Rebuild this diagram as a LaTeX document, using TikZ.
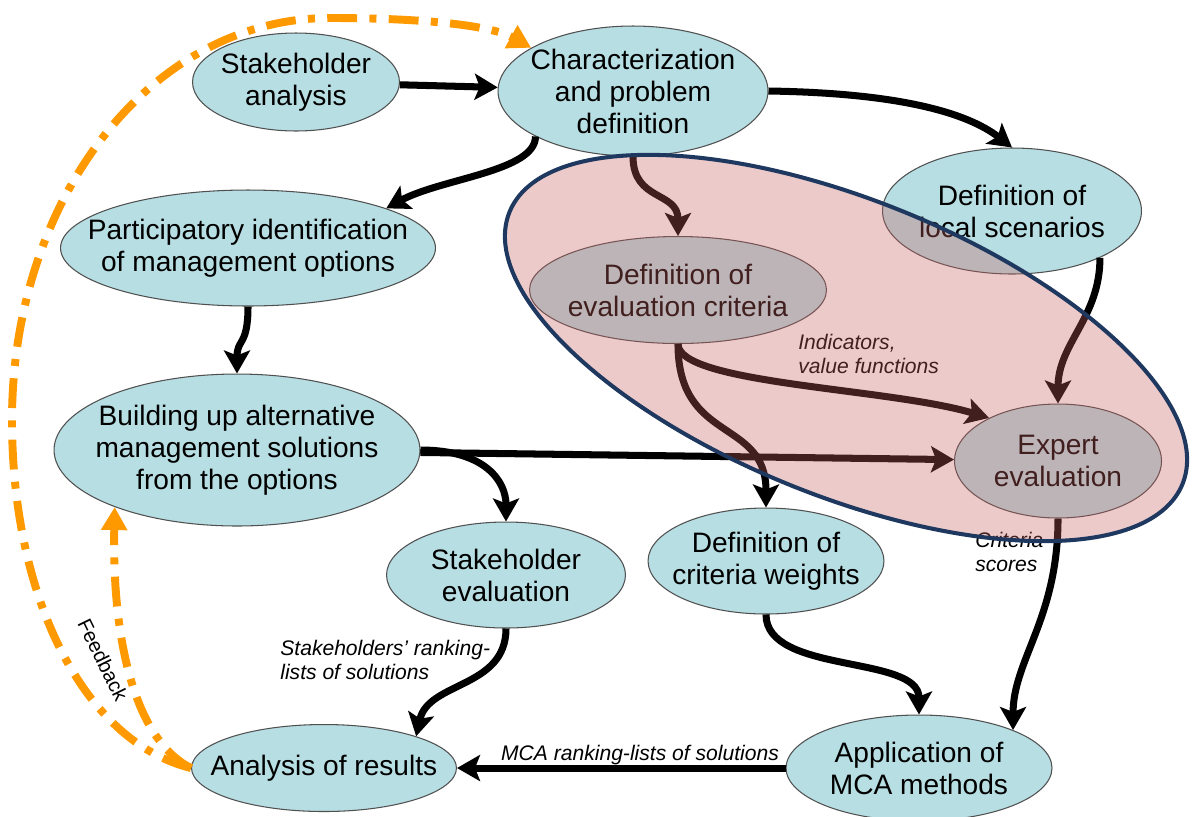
\documentclass[tikz,border=0pt]{standalone}
\usepackage{fontspec}
\setmainfont{Liberation Sans}
\usetikzlibrary{shapes.geometric,arrows.meta}

\definecolor{stagefill}{RGB}{183,222,227}
\definecolor{stageline}{RGB}{80,80,80}
\definecolor{feedorange}{RGB}{255,153,0}
\definecolor{expertpink}{RGB}{200,95,95}
\definecolor{expertline}{RGB}{31,56,96}

\newcommand{\stagefont}{\fontsize{16}{18.2}\selectfont}
\newcommand{\notefont}{\fontsize{12}{13.6}\selectfont\itshape}

\begin{document}
\begin{tikzpicture}[x=0.02cm,y=-0.02cm]
        \tikzstyle{stage} = [ellipse, draw=stageline, line width=0.6pt, fill=stagefill, inner xsep=-3cm, inner ysep=-2cm, align=center, font=\stagefont]
        \tikzstyle{note} = [align=left, font=\notefont, anchor=west, inner sep=0pt]
        \tikzstyle{flow} = [line width=4pt, -{Stealth[length=0.46cm,width=0.52cm,inset=0.1cm]}]
        \tikzstyle{feedback} = [feedorange, line width=4.5pt, dash pattern=on 17pt off 7pt on 4pt off 7pt, -{Triangle[length=0.46cm,width=0.5cm]}]
        \useasboundingbox (0,0) rectangle (1192,816);
        \node[stage, minimum width=4.14cm, minimum height=1.96cm] (sa) at (296,82) {Stakeholder\\analysis};
        \node[stage, minimum width=5.4cm, minimum height=2.6cm] (char) at (633,91) {Characterization\\and problem\\definition};
        \node[stage, minimum width=7.5cm, minimum height=2.32cm] (part) at (248,248) {Participatory identification\\of management options};
        \node[stage, minimum width=7.32cm, minimum height=3.04cm] (bld) at (237,450) {Building up alternative\\management solutions\\from the options};
        \node[stage, minimum width=5.18cm, minimum height=2.52cm] (loc) at (1012,211) {Definition of\\local scenarios};
        \node[stage, minimum width=5.94cm, minimum height=2.14cm] (crit) at (678,290) {Definition of\\evaluation criteria};
        \node[stage, minimum width=4.14cm, minimum height=2.28cm] (exp) at (1058,461) {Expert\\evaluation};
        \node[stage, minimum width=4.78cm, minimum height=2.12cm] (se) at (506,575) {Stakeholder\\evaluation};
        \node[stage, minimum width=4.72cm, minimum height=2.12cm] (wts) at (766,561) {Definition of\\criteria weights};
        \node[stage, minimum width=5.3cm, minimum height=1.74cm] (ana) at (324,768) {Analysis of results};
        \node[stage, minimum width=5.32cm, minimum height=2.12cm] (app) at (919,768) {Application of\\MCA methods};
        \foreach \from/\to in {sa/char, bld/exp, app/ana}
            \draw[flow] (\from) -- (\to);
        \draw[flow] (char.205) .. controls +(0,35) and +(55,-30) .. (part.16);
        \draw[flow] (char.east) .. controls +(130,2) and +(-45,-35) .. (loc.north);
        \draw[flow] (char.south) .. controls +(0,45) and +(0,-45) .. (crit.north);
        \draw[flow] (loc.-28) .. controls +(0,60) and +(0,-60) .. (exp.north);
        \draw[flow] (crit.south) .. controls +(0,40) and +(-100,-30) .. (exp.148);
        \draw[flow] (crit.south) .. controls +(0,100) and +(0,-90) .. (wts.north);
        \draw[flow] (bld.east) .. controls +(65,0) and +(0,-40) .. (se.north);
        \draw[flow] (part.south) .. controls +(0,40) and +(0,-35) .. (bld.north);
        \draw[flow] (se.south) .. controls +(0,60) and +(12,-55) .. (ana.19);
        \draw[flow] (wts.south) .. controls +(0,60) and +(0,-60) .. (app.north);
        \draw[flow] (exp.south) .. controls +(0,100) and +(0,-70) .. (app.22);
        \node[note] (indic) at (798,354) {Indicators,\\value functions};
        \node[note] (scores) at (975,552) {Criteria\\scores};
        \node[note] (srank) at (280,660) {Stakeholders’ ranking-\\lists of solutions};
        \node[note, anchor=center] (mrank) at (640,755) {MCA ranking-lists of solutions};
        \draw[feedback] (ana.west) .. controls (85,742) and (12,600) .. (12,420) .. controls (12,200) and (150,18) .. (330,18) .. controls (420,18) and (490,25) .. (char.157);
        \draw[feedback] (ana.west) .. controls (135,740) and (112,640) .. (bld.205);
        \node[rotate=-64, font=\fontsize{11.5}{14}\selectfont] (fbl) at (103,660) {Feedback};
        \draw[draw=expertline, line width=2.3pt, fill=expertpink, fill opacity=0.33, rotate around={-22:(846,348)}] (846,348) ellipse [x radius=7.26cm, y radius=2.96cm];
\end{tikzpicture}
\end{document}
